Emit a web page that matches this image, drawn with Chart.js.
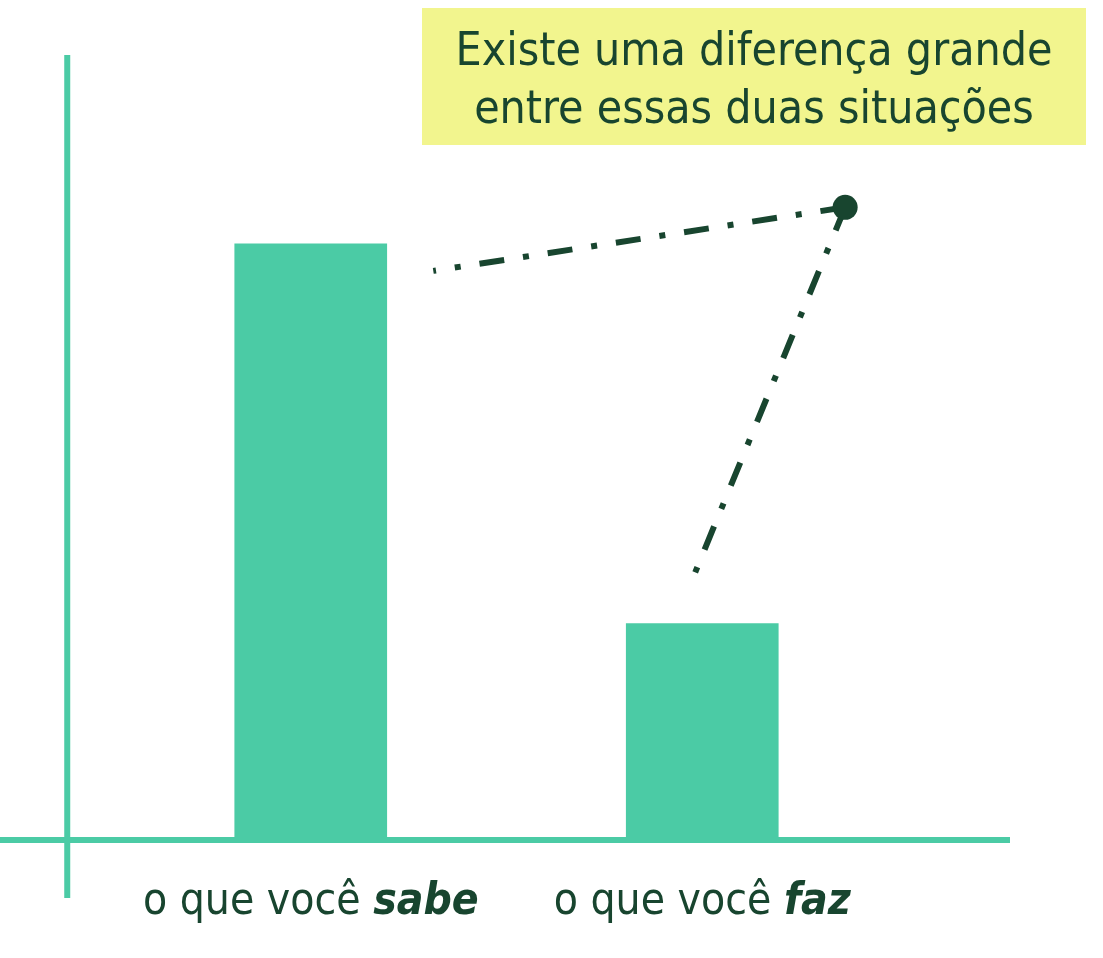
<!DOCTYPE html>
<html>
<head>
<meta charset="utf-8">
<script src="https://cdn.jsdelivr.net/npm/chart.js@4"></script>
<style>
    html, body { margin: 0; padding: 0; background: #ffffff; }
    #wrap { width: 1103px; height: 958px; position: relative; }
</style>
</head>
<body>
<div id="wrap"><canvas id="gapChart"></canvas></div>
<script>
// Data
const categories = ['o que você sabe', 'o que você faz'];
const values = [76, 27.6];
const labelPlain = ['o que você ', 'o que você '];
const labelEmph = ['sabe', 'faz'];
const noteLines = ['Existe uma diferença grande', 'entre essas duas situações'];
// callout: hub point and the two line ends, in data units (category index, value)
const calloutHub = { x: 1.365, y: 80.6 };
const calloutEnds = [{ x: 0.313, y: 72.5 }, { x: 0.982, y: 34.1 }];

const TEAL = '#4bcba5';
const DARK = '#18452f';
const NOTE_BG = '#f2f58e';
const FONT = '"DejaVu Sans Condensed", "Liberation Sans Narrow", "Roboto", sans-serif';

const decorations = {
    id: 'decorations',
    afterDatasetsDraw(chart) {
        const { ctx, chartArea, scales: { x, y } } = chart;
        ctx.save();

        // axes (extend past the plot area like the original)
        ctx.fillStyle = TEAL;
        const yAxisX = x.getPixelForValue(-0.622);
        const base = y.getPixelForValue(0);
        ctx.fillRect(yAxisX - 3, chartArea.top, 6, base + 58 - chartArea.top);
        ctx.fillRect(0, base - 3, 1010, 6);

        // category labels, emphasised word in bold italic
        ctx.fillStyle = DARK;
        ctx.textBaseline = 'alphabetic';
        categories.forEach((c, i) => {
            const regFont = '44px ' + FONT;
            const empFont = 'italic bold 44px ' + FONT;
            ctx.font = regFont;
            const w1 = ctx.measureText(labelPlain[i]).width;
            ctx.font = empFont;
            const w2 = ctx.measureText(labelEmph[i]).width;
            const cx = x.getPixelForValue(i);
            const left = cx - (w1 + w2) / 2;
            ctx.textAlign = 'left';
            ctx.font = regFont;
            ctx.fillText(labelPlain[i], left, base + 74);
            ctx.font = empFont;
            ctx.fillText(labelEmph[i], left + w1, base + 74);
        });

        // note box
        ctx.fillStyle = NOTE_BG;
        ctx.fillRect(422, 8, 664, 137);
        ctx.fillStyle = DARK;
        ctx.textAlign = 'center';
        ctx.font = '46px ' + FONT;
        ctx.fillText(noteLines[0], 754, 65);
        ctx.fillText(noteLines[1], 754, 123);

        // dash-dot callout lines
        const hx = x.getPixelForValue(calloutHub.x);
        const hy = y.getPixelForValue(calloutHub.y);
        ctx.strokeStyle = DARK;
        ctx.lineWidth = 6;
        ctx.setLineDash([25, 19, 6, 19]);
        calloutEnds.forEach(p => {
            ctx.beginPath();
            ctx.moveTo(hx, hy);
            ctx.lineTo(x.getPixelForValue(p.x), y.getPixelForValue(p.y));
            ctx.stroke();
        });
        ctx.setLineDash([]);
        ctx.beginPath();
        ctx.arc(hx, hy, 12.5, 0, Math.PI * 2);
        ctx.fillStyle = DARK;
        ctx.fill();

        ctx.restore();
    }
};

new Chart(document.getElementById('gapChart'), {
    type: 'bar',
    data: {
        labels: categories,
        datasets: [{
            data: values,
            backgroundColor: TEAL,
            borderWidth: 0,
            categoryPercentage: 1,
            barPercentage: 0.39
        }]
    },
    options: {
        responsive: true,
        maintainAspectRatio: false,
        animation: false,
        layout: {
            padding: { left: 115, right: 205, top: 55, bottom: 118 }
        },
        plugins: {
            legend: { display: false },
            tooltip: { enabled: false }
        },
        scales: {
            x: { display: false },
            y: { display: false, min: 0, max: 100 }
        }
    },
    plugins: [decorations]
});
</script>
</body>
</html>
